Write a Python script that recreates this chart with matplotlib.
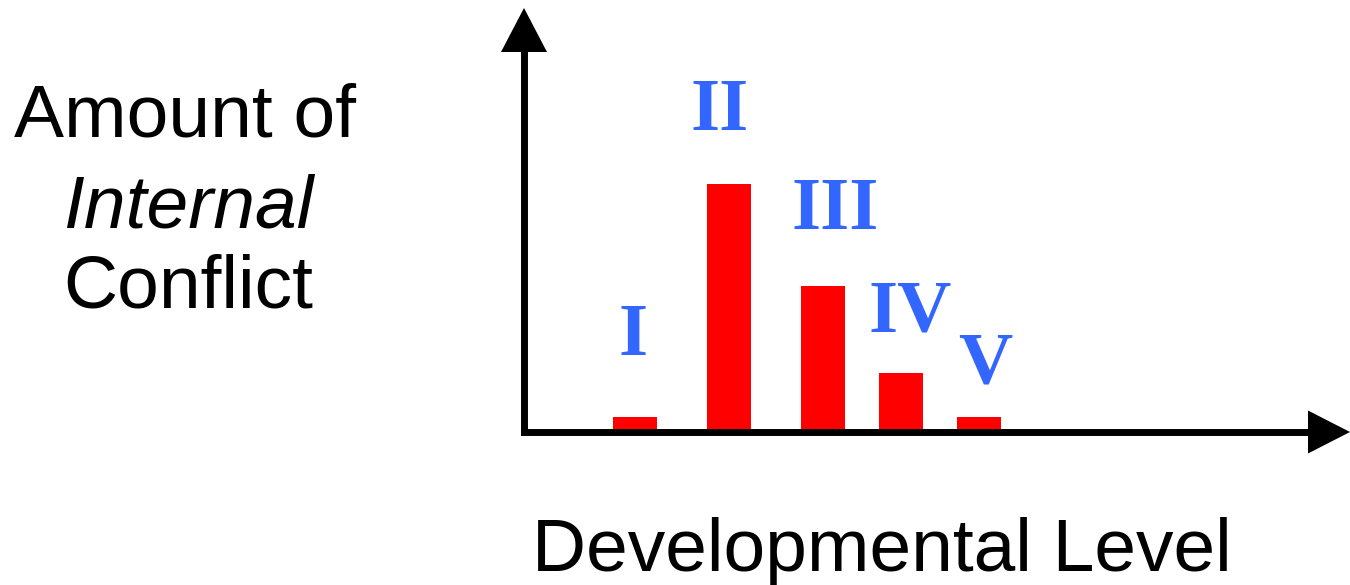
import matplotlib
matplotlib.use("Agg")
import matplotlib.pyplot as plt

# Data
categories = ["I", "II", "III", "IV", "V"]
values = [0.15, 2.48, 1.46, 0.59, 0.15]
# bar positions (x centres) and label anchor positions
bar_x = [1.11, 2.045, 2.99, 3.77, 4.55]
label_x = [1.09, 1.96, 3.11, 3.86, 4.61]
label_y = [0.77, 3.02, 2.03, 1.01, 0.49]

W, H = 1350, 585
fig = plt.figure(figsize=(W / 100, H / 100), dpi=100)
fig.patch.set_facecolor("white")

ax_left, ax_bottom_px, ax_top_px = 524, 432, 8
ax = fig.add_axes([ax_left / W, (H - ax_bottom_px) / H,
                   (W - ax_left) / W, (ax_bottom_px - ax_top_px) / H])
ax.set_xlim(0, (W - ax_left) / 100)
ax.set_ylim(0, (ax_bottom_px - ax_top_px) / 100)
ax.axis("off")

ax.bar(bar_x, values, width=0.44, color="#FF0000", zorder=2)

for lx, ly, c in zip(label_x, label_y, categories):
    ax.text(lx, ly, c, ha="center", va="baseline", fontsize=54,
            fontweight="bold", family="Liberation Serif", color="#3366FF")

xmax = (W - ax_left) / 100
ymax = (ax_bottom_px - ax_top_px) / 100
lw = 5
# axes lines
ax.plot([0, 0], [0, ymax - 0.40], color="black", lw=lw,
        solid_capstyle="projecting", clip_on=False, zorder=3)
ax.plot([0, xmax - 0.40], [0, 0], color="black", lw=lw,
        solid_capstyle="projecting", clip_on=False, zorder=3)
# arrow heads
ax.fill([-0.23, 0.23, 0], [ymax - 0.44, ymax - 0.44, ymax], color="black",
        clip_on=False, zorder=3, lw=0)
ax.fill([xmax - 0.42, xmax - 0.42, xmax], [-0.215, 0.215, 0], color="black",
        clip_on=False, zorder=3, lw=0)

sans = "Liberation Sans"
fig.text(185 / W, (H - 137) / H, "Amount of", ha="center", va="baseline",
         fontsize=54, family=sans)
fig.text(188 / W, (H - 227) / H, "Internal", ha="center", va="baseline",
         fontsize=54, family=sans, style="italic")
fig.text(188 / W, (H - 307) / H, "Conflict", ha="center", va="baseline",
         fontsize=54, family=sans)
fig.text(882 / W, (H - 571) / H, "Developmental Level", ha="center",
         va="baseline", fontsize=54, family=sans)

fig.savefig("out.png", dpi=100, facecolor="white")
